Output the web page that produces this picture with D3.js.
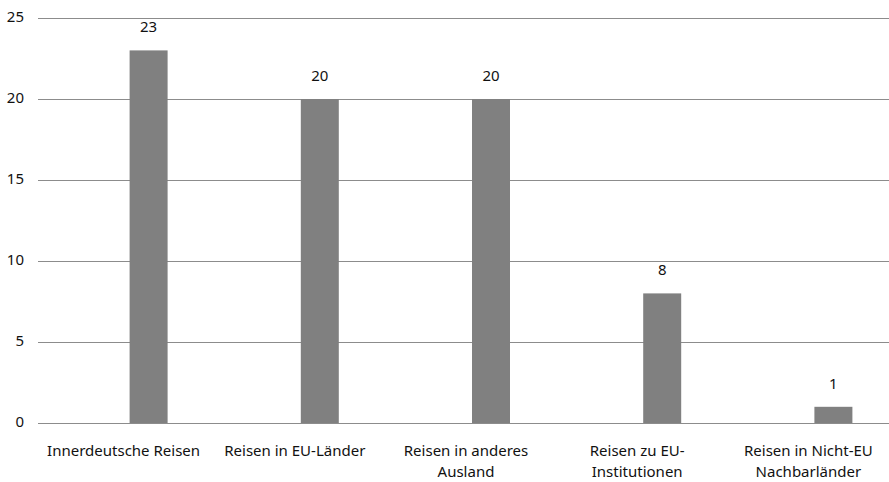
<!DOCTYPE html>
<html><head><meta charset="utf-8">
<script src="https://cdn.jsdelivr.net/npm/d3@7"></script>
<style>body{margin:0;background:#fff}svg{display:block}text{font-family:"Noto Sans",sans-serif;fill:#111}</style>
</head><body><svg id="c" width="889" height="482"></svg>
<script>
const categories = ["Innerdeutsche Reisen","Reisen in EU-Länder","Reisen in anderes Ausland","Reisen zu EU-Institutionen","Reisen in Nicht-EU Nachbarländer"];
const categoryLines = [["Innerdeutsche Reisen"],["Reisen in EU-Länder"],["Reisen in anderes","Ausland"],["Reisen zu EU-","Institutionen"],["Reisen in Nicht-EU","Nachbarländer"]];
const values = [23,20,20,8,1];
const yTicks = [0,5,10,15,20,25];

const svg = d3.select("#c");
const x = d3.scaleBand().domain(categories).range([38,894]).padding(0);
const y = d3.scaleLinear().domain([0,25]).range([423,18]);

svg.append("g").selectAll("line").data(yTicks).join("line")
  .attr("x1",38).attr("x2",889).attr("y1",d=>Math.round(y(d))+0.5).attr("y2",d=>Math.round(y(d))+0.5)
  .attr("stroke","#8c8c8c").attr("stroke-width",1);

svg.append("g").selectAll("text").data(yTicks).join("text")
  .attr("x",24).attr("y",d=>y(d)).attr("text-anchor","end").attr("dominant-baseline","middle")
  .style("font-size","15px").text(d=>d);

const bw = 38;
const bx = c => x(c) + x.bandwidth()/2 + 6;
svg.append("g").selectAll("rect").data(values).join("rect")
  .attr("x",(d,i)=>bx(categories[i])).attr("width",bw)
  .attr("y",d=>y(d)).attr("height",d=>y(0)-y(d)).attr("fill","#808080");

svg.append("g").selectAll("text").data(values).join("text")
  .attr("x",(d,i)=>bx(categories[i])+bw/2).attr("y",d=>y(d)-22).attr("text-anchor","middle")
  .attr("dominant-baseline","middle").style("font-size","15px").text(d=>d);

const g = svg.append("g");
categoryLines.forEach((lines,i)=>{
  const t = g.append("text").attr("text-anchor","middle").style("font-size","15px");
  lines.forEach((l,j)=>{
    t.append("tspan").attr("x",x(categories[i])+x.bandwidth()/2).attr("y",452+j*21).attr("dominant-baseline","middle").text(l);
  });
});
</script></body></html>
